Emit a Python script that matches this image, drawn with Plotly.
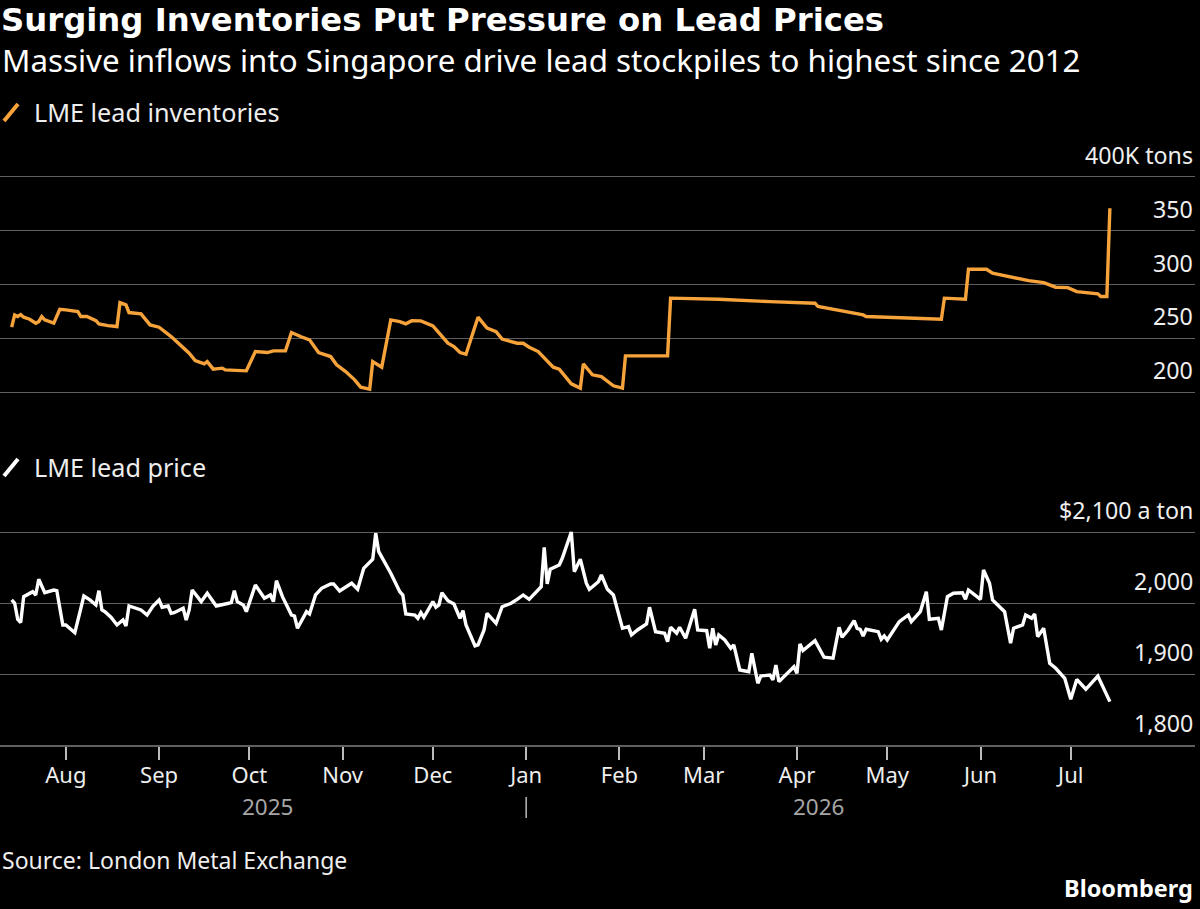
import plotly.graph_objects as go

# ---------------- data ----------------
inv_dates = [
    "2025-07-14", "2025-07-15", "2025-07-16", "2025-07-17", "2025-07-18", "2025-07-20",
    "2025-07-22", "2025-07-23", "2025-07-24", "2025-07-25", "2025-07-28", "2025-07-30",
    "2025-08-01", "2025-08-05", "2025-08-06", "2025-08-08", "2025-08-11", "2025-08-12",
    "2025-08-15", "2025-08-18", "2025-08-19", "2025-08-21", "2025-08-22", "2025-08-26",
    "2025-08-29", "2025-09-01", "2025-09-05", "2025-09-08", "2025-09-11", "2025-09-13",
    "2025-09-16", "2025-09-17", "2025-09-19", "2025-09-22", "2025-09-23", "2025-09-30",
    "2025-10-03", "2025-10-07", "2025-10-09", "2025-10-13", "2025-10-15", "2025-10-18",
    "2025-10-21", "2025-10-24", "2025-10-28", "2025-10-30", "2025-11-02", "2025-11-05",
    "2025-11-07", "2025-11-10", "2025-11-11", "2025-11-14", "2025-11-17", "2025-11-20",
    "2025-11-22", "2025-11-24", "2025-11-27", "2025-12-01", "2025-12-06", "2025-12-08",
    "2025-12-10", "2025-12-12", "2025-12-16", "2025-12-19", "2025-12-22", "2025-12-24",
    "2025-12-29", "2025-12-31", "2026-01-02", "2026-01-05", "2026-01-07", "2026-01-10",
    "2026-01-12", "2026-01-16", "2026-01-19", "2026-01-20", "2026-01-23", "2026-01-26",
    "2026-01-30", "2026-02-02", "2026-02-03", "2026-02-17", "2026-02-18", "2026-02-28",
    "2026-03-06", "2026-03-23", "2026-03-31", "2026-04-07", "2026-04-08", "2026-04-15",
    "2026-04-23", "2026-04-24", "2026-04-30", "2026-05-05", "2026-05-19", "2026-05-20",
    "2026-05-27", "2026-05-28", "2026-06-03", "2026-06-05", "2026-06-12", "2026-06-17",
    "2026-06-22", "2026-06-26", "2026-06-30", "2026-07-03", "2026-07-10", "2026-07-11",
    "2026-07-13", "2026-07-14",
]
inv_values = [  # thousand tons
    260.3, 271.7, 270.2, 272.0, 269.6, 267.7,
    264.0, 265.5, 270.2, 267.1, 264.0, 277.0,
    276.4, 274.8, 270.2, 270.2, 266.4, 263.4,
    261.8, 260.9, 283.2, 281.0, 273.9, 272.7,
    262.4, 260.3, 251.6, 243.9, 236.1, 229.3,
    226.2, 228.3, 221.3, 222.2, 220.6, 219.7,
    237.6, 236.7, 238.3, 238.3, 255.3, 251.6,
    248.5, 236.7, 233.0, 225.3, 219.0, 211.3,
    204.5, 202.7, 228.3, 223.1, 267.1, 265.5,
    263.4, 266.4, 266.2, 261.5, 245.4, 242.3,
    236.7, 235.2, 269.6, 259.4, 256.2, 249.2,
    245.4, 245.4, 241.7, 237.6, 231.5, 223.1,
    221.3, 207.6, 203.6, 226.2, 216.0, 214.4,
    205.8, 203.6, 233.6, 233.6, 287.3, 287.0,
    286.3, 284.1, 283.2, 282.6, 279.5, 275.7,
    271.7, 270.2, 269.6, 268.7, 267.7, 287.3,
    286.3, 314.2, 314.2, 310.5, 306.8, 303.6,
    301.8, 297.5, 297.1, 293.4, 291.3, 288.8,
    288.8, 370.9,
]

price_dates = [
    "2025-07-14", "2025-07-15", "2025-07-16", "2025-07-17", "2025-07-18", "2025-07-20",
    "2025-07-21", "2025-07-22", "2025-07-23", "2025-07-25", "2025-07-28", "2025-07-29",
    "2025-07-31", "2025-08-01", "2025-08-04", "2025-08-07", "2025-08-09", "2025-08-11",
    "2025-08-12", "2025-08-13", "2025-08-14", "2025-08-16", "2025-08-18", "2025-08-20",
    "2025-08-21", "2025-08-22", "2025-08-26", "2025-08-28", "2025-08-30", "2025-09-01",
    "2025-09-02", "2025-09-04", "2025-09-05", "2025-09-06", "2025-09-09", "2025-09-10",
    "2025-09-11", "2025-09-12", "2025-09-15", "2025-09-17", "2025-09-20", "2025-09-23",
    "2025-09-25", "2025-09-26", "2025-09-27", "2025-09-29", "2025-09-30", "2025-10-03",
    "2025-10-06", "2025-10-08", "2025-10-09", "2025-10-10", "2025-10-12", "2025-10-15",
    "2025-10-16", "2025-10-17", "2025-10-20", "2025-10-21", "2025-10-23", "2025-10-25",
    "2025-10-28", "2025-10-29", "2025-10-31", "2025-11-04", "2025-11-06", "2025-11-08",
    "2025-11-11", "2025-11-12", "2025-11-13", "2025-11-17", "2025-11-20", "2025-11-21",
    "2025-11-22", "2025-11-25", "2025-11-26", "2025-11-27", "2025-11-28", "2025-12-01",
    "2025-12-02", "2025-12-03", "2025-12-04", "2025-12-06", "2025-12-08", "2025-12-10",
    "2025-12-11", "2025-12-12", "2025-12-15", "2025-12-16", "2025-12-18", "2025-12-19",
    "2025-12-22", "2025-12-24", "2025-12-27", "2025-12-29", "2025-12-31", "2026-01-02",
    "2026-01-06", "2026-01-07", "2026-01-08", "2026-01-09", "2026-01-12", "2026-01-13",
    "2026-01-16", "2026-01-17", "2026-01-19", "2026-01-21", "2026-01-22", "2026-01-25",
    "2026-01-26", "2026-01-28", "2026-01-30", "2026-02-02", "2026-02-04", "2026-02-05",
    "2026-02-07", "2026-02-10", "2026-02-11", "2026-02-13", "2026-02-16", "2026-02-17",
    "2026-02-18", "2026-02-20", "2026-02-21", "2026-02-23", "2026-02-26", "2026-02-27",
    "2026-03-02", "2026-03-03", "2026-03-04", "2026-03-05", "2026-03-06", "2026-03-08",
    "2026-03-10", "2026-03-11", "2026-03-13", "2026-03-16", "2026-03-17", "2026-03-19",
    "2026-03-20", "2026-03-23", "2026-03-24", "2026-03-25", "2026-03-26", "2026-03-31",
    "2026-04-01", "2026-04-02", "2026-04-03", "2026-04-07", "2026-04-10", "2026-04-13",
    "2026-04-15", "2026-04-16", "2026-04-18", "2026-04-20", "2026-04-21", "2026-04-22",
    "2026-04-23", "2026-04-24", "2026-04-28", "2026-04-29", "2026-04-30", "2026-05-01",
    "2026-05-05", "2026-05-08", "2026-05-09", "2026-05-12", "2026-05-14", "2026-05-15",
    "2026-05-18", "2026-05-19", "2026-05-21", "2026-05-23", "2026-05-26", "2026-05-27",
    "2026-05-28", "2026-06-01", "2026-06-02", "2026-06-04", "2026-06-05", "2026-06-09",
    "2026-06-11", "2026-06-12", "2026-06-15", "2026-06-16", "2026-06-18", "2026-06-19",
    "2026-06-20", "2026-06-22", "2026-06-24", "2026-06-26", "2026-06-29", "2026-07-01",
    "2026-07-03", "2026-07-06", "2026-07-10", "2026-07-14",
]
price_values = [  # USD per ton
    2004.3, 1999.6, 1977.1, 1972.3, 2008.9, 2012.7,
    2015.9, 2011.3, 2033.4, 2014.5, 2018.3, 2017.4,
    1969.1, 1969.1, 1958.2, 2009.9, 2004.3, 1997.2,
    2017.4, 1990.2, 1987.8, 1979.9, 1969.1, 1976.1,
    1967.6, 1995.8, 1990.2, 1983.1, 1995.8, 2004.3,
    1994.0, 1995.8, 1985.5, 1986.4, 1992.6, 1976.1,
    1990.2, 2018.3, 2001.9, 2013.7, 1995.8, 1998.6,
    2000.5, 2017.4, 2001.9, 1997.2, 1987.8, 2025.4,
    2006.6, 2011.3, 2001.9, 2031.4, 2008.9, 1983.1,
    1981.7, 1964.4, 1987.8, 1984.5, 2011.3, 2020.7,
    2026.8, 2026.8, 2016.9, 2027.8, 2019.3, 2048.9,
    2061.6, 2098.2, 2072.3, 2042.0, 2015.9, 2011.3,
    1984.5, 1983.1, 1978.5, 1986.4, 1979.9, 2001.9,
    1994.0, 1997.2, 2014.5, 2003.3, 1998.6, 1978.5,
    1989.2, 1969.1, 1939.5, 1940.9, 1962.0, 1985.5,
    1971.4, 1994.8, 1999.6, 2005.2, 2011.3, 2005.2,
    2023.0, 2078.5, 2026.8, 2047.5, 2053.5, 2063.0,
    2100.0, 2044.1, 2061.6, 2027.8, 2019.3, 2030.0,
    2039.5, 2019.3, 2011.3, 1964.4, 1966.7, 1955.0,
    1962.0, 1970.5, 1994.0, 1959.6, 1957.4, 1945.5,
    1965.8, 1957.4, 1965.8, 1950.3, 1991.2, 1962.0,
    1961.0, 1936.2, 1964.4, 1940.9, 1955.0, 1947.9,
    1936.2, 1940.9, 1905.7, 1903.3, 1929.2, 1887.0,
    1897.2, 1898.6, 1891.6, 1912.7, 1889.2, 1910.3,
    1901.0, 1942.3, 1933.0, 1946.9, 1923.6, 1922.2,
    1965.8, 1951.7, 1962.0, 1975.1, 1964.4, 1963.0,
    1953.6, 1963.0, 1959.6, 1948.9, 1953.6, 1947.9,
    1973.7, 1983.1, 1973.7, 1987.8, 2015.9, 1977.1,
    1978.5, 1962.0, 2008.9, 2013.7, 2014.5, 2005.2,
    2018.3, 2005.2, 2046.5, 2027.8, 2004.3, 1987.8,
    1943.3, 1964.4, 1969.1, 1983.1, 1978.5, 1984.5,
    1952.6, 1964.4, 1915.1, 1908.1, 1894.0, 1864.4,
    1892.3, 1878.5, 1897.2, 1861.1,
]

month_ticks = ["2025-08-01", "2025-09-01", "2025-10-01", "2025-11-01", "2025-12-01",
               "2026-01-01", "2026-02-01", "2026-03-01", "2026-04-01", "2026-05-01",
               "2026-06-01", "2026-07-01"]
month_labels = ["Aug", "Sep", "Oct", "Nov", "Dec", "Jan", "Feb", "Mar", "Apr", "May", "Jun", "Jul"]

inv_ticks = [200, 250, 300, 350, 400]
inv_tick_labels = ["200", "250", "300", "350", "400K tons"]
price_ticks = [1800, 1900, 2000, 2100]
price_tick_labels = ["1,800", "1,900", "2,000", "$2,100 a ton"]

year_labels = ["2025", "2026"]
year_label_pos = ["2025-10-07", "2026-04-08"]

title = "Surging Inventories Put Pressure on Lead Prices"
subtitle = "Massive inflows into Singapore drive lead stockpiles to highest since 2012"
inv_name = "LME lead inventories"
price_name = "LME lead price"
source = "Source: London Metal Exchange"

# ---------------- styling ----------------
W, H = 1200, 909
FONT = "Noto Sans"
TITLE_FONT = "DejaVu Sans"
ORANGE = "#f6a33b"
GRID = "#5f5f5f"
TXT = "#eeeeee"
X_RANGE = ["2025-07-10 03:00", "2026-08-11 07:00"]


def py(p):
    """pixel row -> paper y"""
    return 1 - p / H


fig = go.Figure()
fig.add_trace(go.Scatter(x=inv_dates, y=inv_values, mode="lines", xaxis="x", yaxis="y",
                         line=dict(color=ORANGE, width=3.4), hoverinfo="skip", showlegend=False))
fig.add_trace(go.Scatter(x=price_dates, y=price_values, mode="lines", xaxis="x2", yaxis="y2",
                         line=dict(color="#ffffff", width=3.4), hoverinfo="skip", showlegend=False))

annotations = []
# title / subtitle
annotations.append(dict(text="<b>" + title + "</b>", x=0, y=1, xref="paper", yref="paper",
                        xanchor="left", yanchor="top", showarrow=False, borderpad=0,
                        font=dict(family=TITLE_FONT, size=32.3, color="#ffffff")))
annotations.append(dict(text=subtitle, x=0, y=py(60), xref="paper", yref="paper",
                        xanchor="left", yanchor="middle", showarrow=False,
                        font=dict(family=FONT, size=31.3, color="#ffffff")))
# legend labels
annotations.append(dict(text=inv_name, x=32 / 1195, y=py(112), xref="paper", yref="paper",
                        xanchor="left", yanchor="middle", showarrow=False,
                        font=dict(family=FONT, size=25.2, color=TXT)))
annotations.append(dict(text=price_name, x=32 / 1195, y=py(467), xref="paper", yref="paper",
                        xanchor="left", yanchor="middle", showarrow=False,
                        font=dict(family=FONT, size=25.2, color=TXT)))
# y-axis labels sitting above gridlines
for v, t in zip(inv_ticks, inv_tick_labels):
    annotations.append(dict(text=t, x=1, y=v, xref="paper", yref="y", xanchor="right",
                            yanchor="bottom", yshift=4, showarrow=False,
                            font=dict(family=FONT, size=23.2, color=TXT)))
for v, t in zip(price_ticks, price_tick_labels):
    annotations.append(dict(text=t, x=1, y=v, xref="paper", yref="y2", xanchor="right",
                            yanchor="bottom", yshift=4, showarrow=False,
                            font=dict(family=FONT, size=23.2, color=TXT)))
# year labels
for t, xp in zip(year_labels, year_label_pos):
    annotations.append(dict(text=t, x=xp, y=py(806), xref="x2", yref="paper", xanchor="center",
                            yanchor="middle", showarrow=False,
                            font=dict(family=FONT, size=22.5, color="#a6a6a6")))
# footer
annotations.append(dict(text=source, x=0, y=py(860), xref="paper", yref="paper",
                        xanchor="left", yanchor="middle", showarrow=False,
                        font=dict(family=FONT, size=23, color=TXT)))
annotations.append(dict(text="<b>Bloomberg</b>", x=1, y=py(888), xref="paper", yref="paper",
                        xanchor="right", yanchor="middle", showarrow=False,
                        font=dict(family=FONT, size=23.5, color="#ffffff")))

shapes = [
    # legend swatches (slashes)
    dict(type="line", xref="paper", yref="paper", x0=4 / 1195, y0=py(121), x1=18 / 1195, y1=py(104),
         line=dict(color=ORANGE, width=4)),
    dict(type="line", xref="paper", yref="paper", x0=4 / 1195, y0=py(476), x1=18 / 1195, y1=py(459),
         line=dict(color="#ffffff", width=4)),
    # year separator under Jan
    dict(type="line", xref="x2", yref="paper", x0="2026-01-01", x1="2026-01-01",
         y0=py(797), y1=py(818), line=dict(color="#bbbbbb", width=1.5)),
]

fig.update_layout(
    width=W, height=H,
    paper_bgcolor="#000000", plot_bgcolor="#000000",
    margin=dict(l=0, r=5, t=0, b=0),
    showlegend=False,
    font=dict(family=FONT, color=TXT),
    xaxis=dict(domain=[0, 1], anchor="y", type="date", range=X_RANGE, showticklabels=False,
               showgrid=False, zeroline=False, showline=False, ticks=""),
    yaxis=dict(domain=[py(397.4), py(171.6)], anchor="x", range=[195, 405], tickvals=inv_ticks,
               showticklabels=False, showgrid=True, gridcolor=GRID, gridwidth=1.2,
               zeroline=False, showline=False, ticks=""),
    xaxis2=dict(domain=[0, 1], anchor="y2", type="date", range=X_RANGE,
                tickvals=month_ticks, ticktext=month_labels, ticks="outside", ticklen=13,
                tickwidth=1.5, tickcolor="#bbbbbb", showline=True, linecolor=GRID, linewidth=1.5,
                showgrid=False, zeroline=False, ticklabelstandoff=-3,
                tickfont=dict(family=FONT, size=22, color=TXT)),
    yaxis2=dict(domain=[py(745), py(524.9)], anchor="x2", range=[1800, 2110],
                tickvals=price_ticks[1:], showticklabels=False, showgrid=True, gridcolor=GRID,
                gridwidth=1.2, zeroline=False, showline=False, ticks=""),
    annotations=annotations,
    shapes=shapes,
)

fig.write_html("out.html")
